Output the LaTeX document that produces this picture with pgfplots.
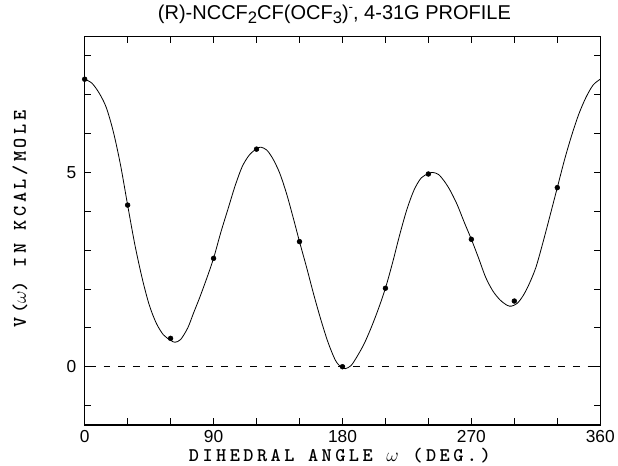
\documentclass[border=0pt]{standalone}
\usepackage{fontspec}
\usepackage{pgfplots}
\pgfplotsset{compat=1.18}
\newfontfamily\ticksf{Liberation Sans}
\newfontfamily\labfam{lmmonolt10-bold.otf}[LetterSpace=18]
\newcommand\labfont{\labfam\fontsize{14.5}{16}\selectfont}
\begin{document}
\begin{tikzpicture}
\path[use as bounding box] (-63.5pt,-30.75pt) rectangle (400pt,318.75pt);
\begin{axis}[
  at={(0,0)}, anchor=south west,
  scale only axis, width=386.7pt, height=291.4pt,
  xmin=0, xmax=360, ymin=-1.5, ymax=8.5,
  axis line style={line width=0.8pt},
  xtick={0,30,...,360},
  xticklabels={0,,,90,,,180,,,270,,,360},
  ytick={-1,0,...,8},
  yticklabels={,0,,,,,5,,,},
  tick align=inside, major tick length=5pt,
  tick style={line width=0.7pt, black},
  xtick pos=both, ytick pos=both,
  xticklabel pos=lower, yticklabel pos=left,
  /pgf/number format/assume math mode=true,
  ticklabel style={font=\ticksf\fontsize{13}{15}\selectfont},
  xticklabel style={anchor=center, yshift=-9pt},
  yticklabel style={anchor=center, xshift=-10pt},
  xlabel={\labfont DIHEDRAL ANGLE $\omega$ (DEG.)},
  ylabel={\labfont V($\omega$) IN KCAL/MOLE},
  xlabel style={at={(axis description cs:0.5,0)}, anchor=center, yshift=-23.3pt, xshift=-2pt},
  ylabel style={at={(axis description cs:0,0.53)}, anchor=center, yshift=48.5pt},
  title={\ticksf\fontsize{15}{17}\selectfont (R)-NCCF\raisebox{-0.35ex}{\fontsize{12.5}{14}\selectfont 2}CF(OCF\raisebox{-0.35ex}{\fontsize{12.5}{14}\selectfont 3})\raisebox{0.8ex}{\fontsize{10}{12}\selectfont -}, 4-31G PROFILE},
  title style={at={(axis description cs:0.5,1)}, anchor=center, yshift=10.5pt, xshift=-6pt},
  clip=false,
]
\addplot[black, line width=0.6pt, dash pattern=on 5pt off 6pt] coordinates {(3,0) (360,0)};
\addplot[black, line width=0.6pt, smooth, tension=0.5] coordinates {
(0,7.40) (5,7.30) (10,7.05) (15,6.68) (20,6.05) (25,5.20) (30,4.16) (35,3.15)
(40,2.30) (45,1.60) (50,1.12) (55,0.82) (60,0.68) (63,0.63) (67,0.70) (72,1.00)
(76,1.38) (80,1.75) (85,2.25) (90,2.79) (95,3.45) (100,4.05) (105,4.65) (110,5.15)
(115,5.45) (120,5.61) (123,5.65) (127,5.58) (131,5.38) (136,5.00) (141,4.45) (146,3.78)
(150,3.22) (155,2.55) (160,1.85) (165,1.20) (170,0.62) (175,0.17) (179,-0.01) (182,-0.05)
(186,0.03) (190,0.25) (195,0.58) (200,1.00) (205,1.48) (210,2.02) (215,2.68) (220,3.40)
(225,4.05) (230,4.55) (235,4.86) (240,4.97) (243,5.00) (247,4.95) (251,4.78) (255,4.55)
(260,4.18) (265,3.72) (270,3.28) (275,2.80) (280,2.30) (285,1.95) (290,1.72) (295,1.58)
(298,1.56) (302,1.63) (306,1.82) (310,2.10) (315,2.55) (320,3.20) (325,3.90) (330,4.61)
(335,5.32) (340,5.95) (345,6.50) (350,6.93) (355,7.25) (360,7.40)
};
\addplot[only marks, mark=*, mark size=1.8pt, black] coordinates {
(0,7.40) (30,4.16) (60,0.73) (90,2.79) (120,5.60) (150,3.22) (180,0.00)
(210,2.02) (240,4.96) (270,3.28) (300,1.69) (330,4.61)
};
\end{axis}
\end{tikzpicture}
\end{document}
